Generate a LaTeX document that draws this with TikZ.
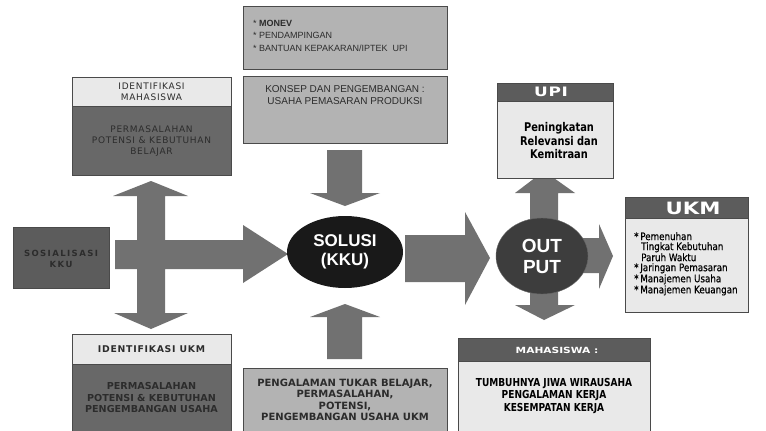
\documentclass[tikz,border=0pt]{standalone}
\usepackage{fontspec}
\setmainfont{DejaVu Sans}
\newfontfamily\dv{DejaVu Sans}
\newfontfamily\dvs[LetterSpace=8]{DejaVu Sans}
\newfontfamily\lib{Liberation Sans}
\newfontfamily\cnd[FakeStretch=0.82]{DejaVu Sans}
\newfontfamily\cndb[FakeStretch=0.84,FakeBold=0.5]{DejaVu Sans}
\newfontfamily\wide[FakeStretch=1.25]{DejaVu Sans}
\newfontfamily\wides[FakeStretch=1.3,LetterSpace=6]{DejaVu Sans}
\usetikzlibrary{shapes.geometric}
\definecolor{arr}{HTML}{717171}
\definecolor{dk}{HTML}{5C5C5C}
\definecolor{dkb}{HTML}{686868}
\definecolor{lt}{HTML}{E9E9E9}
\definecolor{md}{HTML}{B3B3B3}
\definecolor{edge}{HTML}{4A4A4A}
\definecolor{txt}{HTML}{2C2C2C}
\tikzset{
  box/.style={draw=edge, line width=0.8pt, rectangle, inner sep=0pt, anchor=north west},
  blk/.style={fill=arr, draw=none},
  t/.style={inner sep=0pt, align=center, text=txt, font=\dvs\fontsize{9}{11}\selectfont},
  tb/.style={inner sep=0pt, align=center, text=txt, font=\dv\bfseries\fontsize{9.6}{11.5}\selectfont},
  rt/.style={inner sep=0pt, align=center, text=black, font=\cnd\bfseries\fontsize{10.5}{13.5}\selectfont},
  hd/.style={inner sep=0pt, text=white, font=\wide\bfseries\fontsize{12}{12}\selectfont},
}
\begin{document}
\begin{tikzpicture}[x=1pt,y=-1pt]
\useasboundingbox (0,0) rectangle (766,431);
\fill[white] (0,0) rectangle (766,431);

% ---- block arrows (behind) ----
% cross arrow on the left
\fill[blk] (137,196) -- (113,196) -- (151,181) -- (188,196) -- (165,196) -- (165,240)
  -- (243,240) -- (243,225) -- (288,254) -- (243,283) -- (243,269) -- (165,269)
  -- (165,313) -- (188,313) -- (151,329) -- (114,313) -- (137,313) -- (137,269)
  -- (115,269) -- (115,240) -- (137,240) -- cycle;
% down arrow from top
\fill[blk] (327,150) -- (362,150) -- (362,193) -- (380,193) -- (345,206) -- (310,193) -- (327,193) -- cycle;
% up arrow from bottom
\fill[blk] (327,359) -- (362,359) -- (362,317) -- (380,317) -- (345,304) -- (310,317) -- (327,317) -- cycle;
% big arrow to output
\fill[blk] (405,235) -- (465,235) -- (465,212) -- (490,258) -- (465,305) -- (465,282) -- (405,282) -- cycle;
% output arrows
\fill[blk] (530,250) -- (530,193) -- (515,193) -- (544,171) -- (575,193) -- (558,193) -- (558,250) -- cycle;
\fill[blk] (530,260) -- (530,305) -- (515,305) -- (544,320) -- (575,305) -- (558,305) -- (558,260) -- cycle;
\fill[blk] (560,238) -- (599,238) -- (599,224) -- (613,256) -- (599,289) -- (599,273) -- (560,273) -- cycle;

% ---- top boxes ----
\node[box, fill=md, minimum width=204pt, minimum height=63pt] (monev) at (243,6) {};
\node[inner sep=0pt, anchor=north west, align=left, text=txt, font=\lib\fontsize{9}{12.5}\selectfont] (monevtxt) at (253,20)
  {* \textbf{MONEV}\\* PENDAMPINGAN\\* BANTUAN KEPAKARAN/IPTEK\ \ UPI};
\node[box, fill=md, minimum width=204pt, minimum height=67pt] (konsep) at (243,76) {};
\node[inner sep=0pt, align=center, text=txt, font=\lib\fontsize{10}{11.5}\selectfont] (konseptxt) at (345,95)
  {KONSEP DAN PENGEMBANGAN :\\USAHA PEMASARAN PRODUKSI};

% ---- identifikasi mahasiswa ----
\node[box, fill=lt, minimum width=159pt, minimum height=29pt] (idmh) at (72,77) {};
\node[t] (idmhtxt) at (151.5,91.5) {IDENTIFIKASI\\MAHASISWA};
\node[box, fill=dkb, minimum width=159pt, minimum height=69pt] (pmh) at (72,106) {};
\node[t] (pmhtxt) at (151.5,141) {PERMASALAHAN\\POTENSI \& KEBUTUHAN\\BELAJAR};

% ---- sosialisasi ----
\node[box, fill=dk, minimum width=96pt, minimum height=61pt] (sos) at (13,227) {};
\node[tb, font=\dv\bfseries\fontsize{8.5}{11.5}\selectfont] (sostxt) at (61,259) {S\,O\,S\,I\,A\,L\,I\,S\,A\,S\,I\\K\,K\,U};

% ---- identifikasi UKM ----
\node[box, fill=lt, minimum width=159pt, minimum height=30pt] (idukm) at (72,334) {};
\node[tb, font=\dvs\bfseries\fontsize{9.3}{11.5}\selectfont] (idukmtxt) at (151.5,349) {IDENTIFIKASI UKM};
\node[box, fill=dkb, minimum width=159pt, minimum height=72pt] (pukm) at (72,364) {};
\node[tb] (pukmtxt) at (151.5,398) {PERMASALAHAN\\POTENSI \& KEBUTUHAN\\PENGEMBANGAN USAHA};

% ---- bottom middle ----
\node[box, fill=md, minimum width=204pt, minimum height=70pt] (tukar) at (243,368) {};
\node[tb, font=\dv\bfseries\fontsize{10}{11.5}\selectfont] (tukartxt) at (345,400) {PENGALAMAN TUKAR BELAJAR,\\PERMASALAHAN,\\POTENSI,\\PENGEMBANGAN USAHA UKM};

% ---- solusi & output ----
\node[ellipse, fill=black!90, draw=none, minimum width=116pt, minimum height=72pt, inner sep=0pt,
  text=white, align=center, font=\lib\bfseries\fontsize{17}{19}\selectfont] (solusi) at (345,252) {SOLUSI\\(KKU)};
\node[ellipse, fill=black!76, draw=black!60, minimum width=92pt, minimum height=76pt, inner sep=0pt,
  text=white, align=center, font=\lib\bfseries\fontsize{19}{21}\selectfont] (output) at (542,256) {OUT\\PUT};

% ---- UPI ----
\node[box, fill=dk, minimum width=116pt, minimum height=18pt] (upih) at (497,83) {};
\node[hd, font=\wides\bfseries\fontsize{13}{13}\selectfont] (upihtxt) at (551,92) {UPI};
\node[box, fill=lt, minimum width=116pt, minimum height=77pt] (upi) at (497,101) {};
\node[rt, font=\cnd\bfseries\fontsize{12}{13.5}\selectfont] (upitxt) at (559,141) {Peningkatan\\Relevansi dan\\Kemitraan};

% ---- UKM ----
\node[box, fill=dk, minimum width=123pt, minimum height=21pt] (ukmh) at (625,197) {};
\node[hd, font=\wide\bfseries\fontsize{17}{17}\selectfont] (ukmhtxt) at (693,208) {UKM};
\node[box, fill=lt, minimum width=123pt, minimum height=94pt] (ukm) at (625,218) {};
\node[inner sep=0pt, anchor=north west, align=left, text=black, font=\cndb\fontsize{10.4}{10}\selectfont] (ukmtxt) at (634,232)
  {*\,Pemenuhan\\\hspace*{7pt}Tingkat Kebutuhan\\\hspace*{7pt}Paruh Waktu\\*\,Jaringan Pemasaran\\*\,Manajemen Usaha\\*\,Manajemen Keuangan};

% ---- MAHASISWA ----
\node[box, fill=dk, minimum width=192pt, minimum height=23pt] (mhh) at (458,338) {};
\node[hd, font=\wide\bfseries\fontsize{8.5}{10}\selectfont] (mhhtxt) at (557,350) {MAHASISWA :};
\node[box, fill=lt, minimum width=192pt, minimum height=72pt] (mh) at (458,361) {};
\node[rt, font=\cnd\bfseries\fontsize{11}{12.5}\selectfont] (mhtxt) at (554,396) {TUMBUHNYA JIWA WIRAUSAHA\\PENGALAMAN KERJA\\KESEMPATAN KERJA};
\end{tikzpicture}
\end{document}
